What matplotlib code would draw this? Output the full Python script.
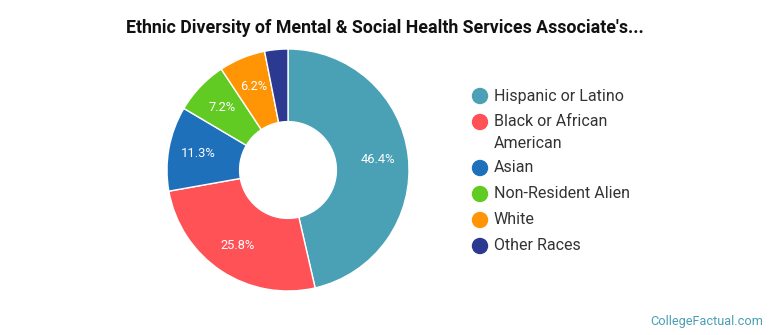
import matplotlib
matplotlib.use("Agg")
import matplotlib.pyplot as plt

categories = ["Hispanic or Latino", "Black or African\nAmerican", "Asian",
              "Non-Resident Alien", "White", "Other Races"]
values = [46.4, 25.8, 11.3, 7.2, 6.2, 3.1]
colors = ["#4aa1b5", "#ff5257", "#1f70bb", "#62cb23", "#ff9505", "#2b3990"]
title = "Ethnic Diversity of Mental & Social Health Services Associate's..."

plt.rcParams['font.family'] = ['Roboto', 'DejaVu Sans']

W, H = 770, 335
fig = plt.figure(figsize=(W / 100, H / 100), dpi=100)

cx, cy, R = 288, 170, 121
ax = fig.add_axes([(cx - 122) / W, (H - cy - 122) / H, 244 / W, 244 / H])
r = R / 122
wedges, texts, autotexts = ax.pie(
    values, colors=colors, startangle=90, counterclock=False,
    radius=r, wedgeprops=dict(width=r * 0.6, edgecolor="white", linewidth=1),
    autopct=lambda p: f"{p:.1f}%" if p > 4 else "", pctdistance=0.75,
    textprops=dict(color="white", fontsize=9.3))
for t, v in zip(autotexts, values):
    if t.get_text():
        t.set_text(f"{v:.1f}%")
ax.set_xlim(-1, 1)
ax.set_ylim(-1, 1)
ax.set_aspect("equal")
ax.axis("off")

fig.text(385 / W, 1 - 28 / H, title, ha="center", va="center",
         fontsize=12.8, fontweight="bold", color="#111111")

# legend
ys = [96, 122, 168, 194, 220, 246]
for lab, col, y in zip(categories, colors, ys):
    fig.patches.append(matplotlib.patches.Ellipse(
        (480 / W, 1 - y / H), 15 / W, 15 / H, transform=fig.transFigure,
        color=col, figure=fig))
    fig.text(494 / W, 1 - y / H + 7.5 / H, lab, ha="left", va="top",
             fontsize=11.5, color="#333333", linespacing=1.55)

fig.text(763 / W, 1 - 321 / H, "CollegeFactual.com", ha="right", va="center",
         fontsize=9.2, color="#4a9fb5")

fig.savefig("out.png", dpi=100)
